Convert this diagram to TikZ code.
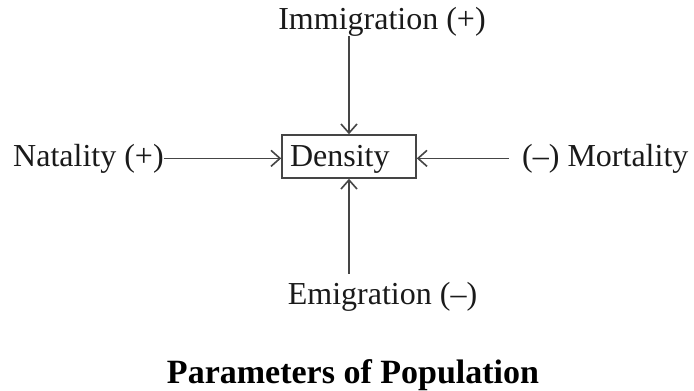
\documentclass[tikz,border=0pt]{standalone}
\usepackage{fontspec}
\setmainfont{Liberation Serif}
\usetikzlibrary{arrows.meta}
\definecolor{linegray}{HTML}{454545}
\definecolor{txt}{HTML}{1A1A1A}
\tikzset{
  lbl/.style={inner sep=0pt, text=txt, font=\fontsize{32}{38}\selectfont},
  arr/.style={draw=linegray, line width=1.7pt, -{Straight Barb[length=9pt,width=16pt,line width=1.6pt]}},
  boxnode/.style={draw=linegray, line width=1.6pt, text=txt, font=\fontsize{32}{38}\selectfont,
    text width=118pt, inner xsep=8pt, inner ysep=0pt, align=left, minimum height=43pt}
}
\begin{document}
\begin{tikzpicture}[x=1pt,y=-1pt]
\useasboundingbox[fill=white] (0,0) rectangle (694,391);
\node[boxnode] (density) at (349,156.5) {\raisebox{-3pt}[\height][\depth]{Density}};
\node[lbl, anchor=base] (imm) at (382,29) {Immigration (+)};
\node[lbl, anchor=base west] (nat) at (13,166) {Natality (+)};
\node[lbl, anchor=base west] (mort) at (522,166) {(--) Mortality};
\node[lbl, anchor=base] (emi) at (382.5,304) {Emigration (--)};
\node[inner sep=0pt, anchor=base, text=black, font=\fontsize{34}{40}\selectfont\bfseries] (title) at (353,383) {Parameters of Population};
\draw[arr] (density.north |- imm.south) -- (density.north);
\draw[arr] ([yshift=8pt]density.south |- emi.north) -- (density.south);
\draw[arr] (nat.east) -- (nat.east -| density.west);
\draw[arr] ([xshift=-13pt]mort.west) -- (mort.west -| density.east);
\end{tikzpicture}
\end{document}
